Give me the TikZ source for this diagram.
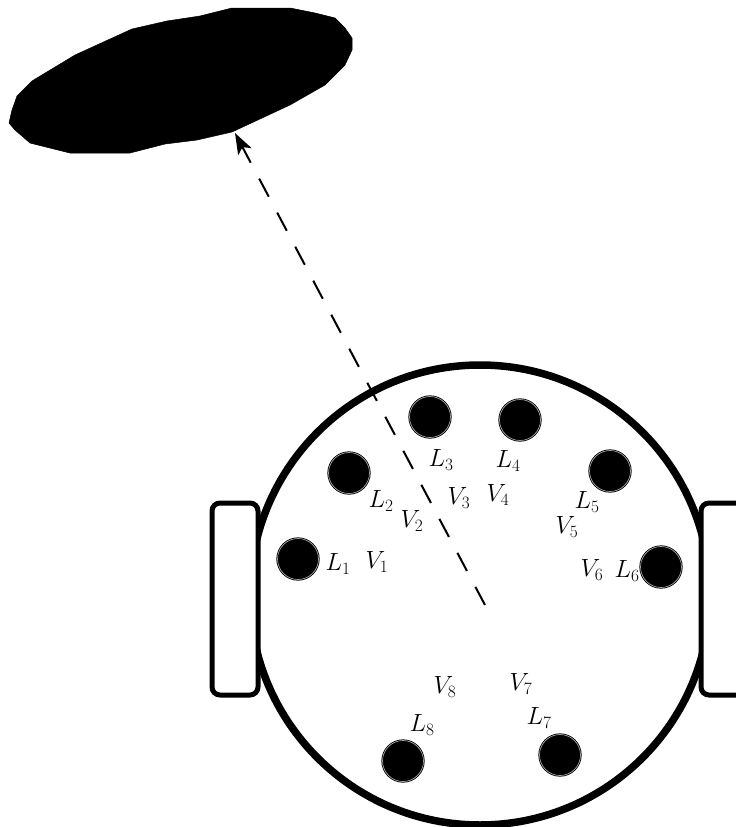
\documentclass[tikz,border=0pt]{standalone}
\usetikzlibrary{arrows.meta}
\tikzset{
	lamp/.style={circle,draw=black,fill=black,double=gray!70,line width=0.8pt,double distance=0.7pt,minimum size=41pt,inner sep=0pt},
	wheel/.style={draw=black,fill=white,line width=5pt,rounded corners=8pt},
	tag/.style={inner sep=0pt,font=\fontsize{27}{27}\selectfont}
}
\begin{document}
\begin{tikzpicture}[x=1pt,y=-1pt,line join=round,>=stealth]
	\useasboundingbox (0,0) rectangle (736,827);
	\clip (0,0) rectangle (736,827);
	
	\path[fill=black,draw=black,line width=0.5pt] (232,8) -- (290,8) -- (315,13) -- (335,18) -- (345,28) -- (352,38) -- (352,50) -- (345,65) -- (325,85) -- (290,105) -- (232,132) -- (197,140) -- (165,144) -- (130,153) -- (70,153) -- (30,143) -- (15,130) -- (9,123) -- (12,110) -- (17,96) -- (32,81) -- (75,55) -- (132,29) -- (167,21) -- (200,16) -- cycle;
	
	\draw[line width=7.5pt] (480,595) circle(230);
	\draw[wheel] (212,503) rectangle (258,695);
	\draw[wheel] (701,503) rectangle (760,695);
	
	\foreach \i/\a/\b in {1/298/559,2/349/473,3/430/417,4/520/420,5/610/471,6/661/567,7/560/755,8/403/761}
		\node[lamp] (lamp\i) at (\a,\b) {};
	
	\foreach \i/\a/\b in {1/338/564,2/381/501,3/441/460,4/508/461,5/587/502,6/627/571,7/539/718,8/422/725}
		\node[tag] (L\i) at (\a,\b) {$L_{\i}$};
	\foreach \i/\a/\b in {1/377/562,2/412/521,3/459/498,4/498/495,5/567/527,6/592/570,7/521/684,8/445/687}
		\node[tag] (V\i) at (\a,\b) {$V_{\i}$};
	
	\coordinate (robot) at (485,605);
	\coordinate (target) at (235,133);
	\draw[->,line width=2pt,dash pattern=on 20.5pt off 18pt,>={Stealth[length=21pt,width=15pt,inset=5pt]}] (robot) -- (target);
\end{tikzpicture}
\end{document}
